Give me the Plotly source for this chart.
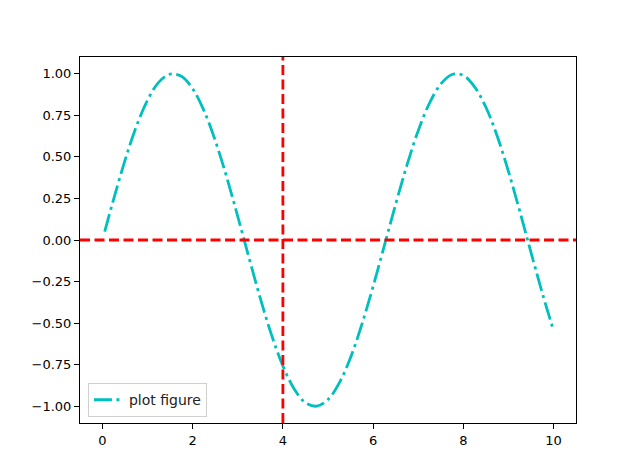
import plotly.graph_objects as go

x_vals = [0.05, 0.25, 0.5, 0.75, 1.0, 1.25, 1.5, 1.75, 2.0, 2.25, 2.5, 2.75, 3.0, 3.25,
          3.5, 3.75, 4.0, 4.25, 4.5, 4.75, 5.0, 5.25, 5.5, 5.75, 6.0, 6.25, 6.5, 6.75,
          7.0, 7.25, 7.5, 7.75, 8.0, 8.25, 8.5, 8.75, 9.0, 9.25, 9.5, 9.75, 10.0]
y_vals = [0.05, 0.247, 0.479, 0.682, 0.841, 0.949, 0.997, 0.984, 0.909, 0.778, 0.598,
          0.382, 0.141, -0.108, -0.351, -0.572, -0.757, -0.895, -0.978, -0.999, -0.959,
          -0.859, -0.706, -0.508, -0.279, -0.033, 0.215, 0.450, 0.657, 0.823, 0.938,
          0.995, 0.989, 0.920, 0.798, 0.625, 0.412, 0.174, -0.075, -0.319, -0.544]
hline_y = 0
vline_x = 4
series_name = "plot figure"
x_ticks = [0, 2, 4, 6, 8, 10]
y_ticks = [-1.0, -0.75, -0.5, -0.25, 0.0, 0.25, 0.5, 0.75, 1.0]

fig = go.Figure()
fig.add_trace(go.Scatter(
    x=x_vals, y=y_vals, mode="lines", name=series_name,
    line=dict(color="#00bfbf", width=2.8, dash="18px,4.5px,3px,4.5px", shape="spline"),
))
fig.add_shape(type="line", xref="paper", yref="y", x0=0, x1=1, y0=hline_y, y1=hline_y,
              line=dict(color="#ff0000", width=2.8, dash="10px,4.5px"))
fig.add_shape(type="line", xref="x", yref="paper", x0=vline_x, x1=vline_x, y0=0, y1=1,
              line=dict(color="#ff0000", width=2.8, dash="10px,4.5px"))

axis_common = dict(showgrid=False, zeroline=False, showline=True, linecolor="black",
                   linewidth=1, mirror=True, ticks="outside", ticklen=5, tickwidth=1,
                   tickcolor="black", tickfont=dict(size=13, color="black"))
fig.update_xaxes(range=[-0.4975, 10.4975], tickvals=x_ticks,
                 ticktext=[str(v) for v in x_ticks], **axis_common)
fig.update_yaxes(range=[-1.1, 1.1], tickvals=y_ticks,
                 ticktext=[f"{v:.2f}".replace("-", "\u2212") for v in y_ticks], **axis_common)

fig.update_layout(
    width=640, height=476,
    margin=dict(l=72, r=72, t=49, b=61),
    paper_bgcolor="white", plot_bgcolor="white",
    font=dict(family="DejaVu Sans", size=13, color="black"),
    showlegend=True,
    legend=dict(x=0.016, y=0.016, xanchor="left", yanchor="bottom",
                bordercolor="#d0d0d0", borderwidth=1, bgcolor="rgba(255,255,255,0.8)",
                itemwidth=30, font=dict(size=14, color="#222222")),
)
fig.write_html("out.html")
